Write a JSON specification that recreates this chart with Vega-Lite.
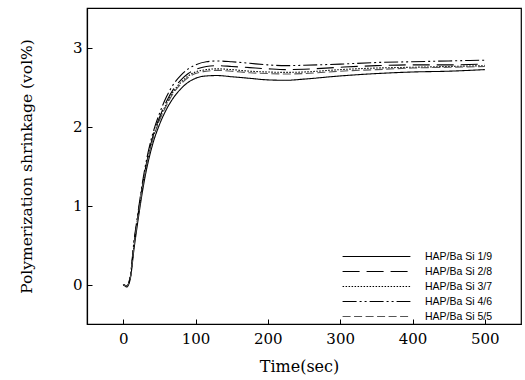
{
  "$schema": "https://vega.github.io/schema/vega-lite/v6.json",
  "width": 434,
  "height": 316,
  "autosize": {"type": "none"},
  "padding": {"left": 87, "top": 8, "right": 4, "bottom": 56},
  "background": "white",
  "config": {
    "view": {"stroke": "black", "strokeWidth": 1.2},
    "axis": {"grid": false, "domainColor": "black", "tickColor": "black", "labelColor": "black", "titleColor": "black", "labelFont": "DejaVu Serif", "titleFont": "DejaVu Serif", "labelFontSize": 15, "titleFontSize": 16, "titleFontWeight": "normal", "tickSize": -5, "domainWidth": 1.2},
    "legend": {"title": null, "orient": "none", "legendX": 255, "legendY": 241, "symbolType": "stroke", "symbolSize": 4600, "clipHeight": 15, "symbolStrokeWidth": 1.1, "labelFont": "Liberation Sans", "labelFontSize": 10.5, "labelColor": "black", "rowPadding": 0, "labelOffset": 14}
  },
  "datasets": {
    "d": [
      {"t":0,"y":0,"s":"HAP/Ba Si 1/9"},{"t":5,"y":-0.03,"s":"HAP/Ba Si 1/9"},{"t":10,"y":0.08,"s":"HAP/Ba Si 1/9"},{"t":15,"y":0.45,"s":"HAP/Ba Si 1/9"},{"t":20,"y":0.78,"s":"HAP/Ba Si 1/9"},{"t":30,"y":1.35,"s":"HAP/Ba Si 1/9"},{"t":40,"y":1.75,"s":"HAP/Ba Si 1/9"},{"t":50,"y":2.02,"s":"HAP/Ba Si 1/9"},{"t":60,"y":2.22,"s":"HAP/Ba Si 1/9"},{"t":70,"y":2.37,"s":"HAP/Ba Si 1/9"},{"t":80,"y":2.48,"s":"HAP/Ba Si 1/9"},{"t":90,"y":2.56,"s":"HAP/Ba Si 1/9"},{"t":100,"y":2.61,"s":"HAP/Ba Si 1/9"},{"t":115,"y":2.64,"s":"HAP/Ba Si 1/9"},{"t":130,"y":2.645,"s":"HAP/Ba Si 1/9"},{"t":150,"y":2.63,"s":"HAP/Ba Si 1/9"},{"t":175,"y":2.61,"s":"HAP/Ba Si 1/9"},{"t":200,"y":2.59,"s":"HAP/Ba Si 1/9"},{"t":225,"y":2.585,"s":"HAP/Ba Si 1/9"},{"t":250,"y":2.6,"s":"HAP/Ba Si 1/9"},{"t":300,"y":2.64,"s":"HAP/Ba Si 1/9"},{"t":350,"y":2.67,"s":"HAP/Ba Si 1/9"},{"t":400,"y":2.69,"s":"HAP/Ba Si 1/9"},{"t":450,"y":2.7,"s":"HAP/Ba Si 1/9"},{"t":500,"y":2.72,"s":"HAP/Ba Si 1/9"},

      {"t":0,"y":0,"s":"HAP/Ba Si 2/8"},{"t":5,"y":-0.02,"s":"HAP/Ba Si 2/8"},{"t":10,"y":0.1,"s":"HAP/Ba Si 2/8"},{"t":15,"y":0.52,"s":"HAP/Ba Si 2/8"},{"t":20,"y":0.85,"s":"HAP/Ba Si 2/8"},{"t":30,"y":1.43,"s":"HAP/Ba Si 2/8"},{"t":40,"y":1.84,"s":"HAP/Ba Si 2/8"},{"t":50,"y":2.11,"s":"HAP/Ba Si 2/8"},{"t":60,"y":2.32,"s":"HAP/Ba Si 2/8"},{"t":70,"y":2.48,"s":"HAP/Ba Si 2/8"},{"t":80,"y":2.59,"s":"HAP/Ba Si 2/8"},{"t":90,"y":2.67,"s":"HAP/Ba Si 2/8"},{"t":100,"y":2.72,"s":"HAP/Ba Si 2/8"},{"t":115,"y":2.76,"s":"HAP/Ba Si 2/8"},{"t":130,"y":2.77,"s":"HAP/Ba Si 2/8"},{"t":150,"y":2.76,"s":"HAP/Ba Si 2/8"},{"t":175,"y":2.745,"s":"HAP/Ba Si 2/8"},{"t":200,"y":2.73,"s":"HAP/Ba Si 2/8"},{"t":225,"y":2.72,"s":"HAP/Ba Si 2/8"},{"t":250,"y":2.725,"s":"HAP/Ba Si 2/8"},{"t":300,"y":2.75,"s":"HAP/Ba Si 2/8"},{"t":350,"y":2.77,"s":"HAP/Ba Si 2/8"},{"t":400,"y":2.78,"s":"HAP/Ba Si 2/8"},{"t":450,"y":2.78,"s":"HAP/Ba Si 2/8"},{"t":500,"y":2.79,"s":"HAP/Ba Si 2/8"},

      {"t":0,"y":0,"s":"HAP/Ba Si 3/7"},{"t":5,"y":-0.02,"s":"HAP/Ba Si 3/7"},{"t":10,"y":0.1,"s":"HAP/Ba Si 3/7"},{"t":15,"y":0.5,"s":"HAP/Ba Si 3/7"},{"t":20,"y":0.83,"s":"HAP/Ba Si 3/7"},{"t":30,"y":1.41,"s":"HAP/Ba Si 3/7"},{"t":40,"y":1.82,"s":"HAP/Ba Si 3/7"},{"t":50,"y":2.09,"s":"HAP/Ba Si 3/7"},{"t":60,"y":2.29,"s":"HAP/Ba Si 3/7"},{"t":70,"y":2.45,"s":"HAP/Ba Si 3/7"},{"t":80,"y":2.56,"s":"HAP/Ba Si 3/7"},{"t":90,"y":2.64,"s":"HAP/Ba Si 3/7"},{"t":100,"y":2.69,"s":"HAP/Ba Si 3/7"},{"t":115,"y":2.72,"s":"HAP/Ba Si 3/7"},{"t":130,"y":2.73,"s":"HAP/Ba Si 3/7"},{"t":150,"y":2.72,"s":"HAP/Ba Si 3/7"},{"t":175,"y":2.7,"s":"HAP/Ba Si 3/7"},{"t":200,"y":2.69,"s":"HAP/Ba Si 3/7"},{"t":225,"y":2.685,"s":"HAP/Ba Si 3/7"},{"t":250,"y":2.69,"s":"HAP/Ba Si 3/7"},{"t":300,"y":2.72,"s":"HAP/Ba Si 3/7"},{"t":350,"y":2.74,"s":"HAP/Ba Si 3/7"},{"t":400,"y":2.75,"s":"HAP/Ba Si 3/7"},{"t":450,"y":2.76,"s":"HAP/Ba Si 3/7"},{"t":500,"y":2.77,"s":"HAP/Ba Si 3/7"},

      {"t":0,"y":0,"s":"HAP/Ba Si 4/6"},{"t":5,"y":-0.02,"s":"HAP/Ba Si 4/6"},{"t":10,"y":0.12,"s":"HAP/Ba Si 4/6"},{"t":15,"y":0.55,"s":"HAP/Ba Si 4/6"},{"t":20,"y":0.88,"s":"HAP/Ba Si 4/6"},{"t":30,"y":1.47,"s":"HAP/Ba Si 4/6"},{"t":40,"y":1.88,"s":"HAP/Ba Si 4/6"},{"t":50,"y":2.16,"s":"HAP/Ba Si 4/6"},{"t":60,"y":2.38,"s":"HAP/Ba Si 4/6"},{"t":70,"y":2.54,"s":"HAP/Ba Si 4/6"},{"t":80,"y":2.65,"s":"HAP/Ba Si 4/6"},{"t":90,"y":2.73,"s":"HAP/Ba Si 4/6"},{"t":100,"y":2.78,"s":"HAP/Ba Si 4/6"},{"t":115,"y":2.82,"s":"HAP/Ba Si 4/6"},{"t":130,"y":2.83,"s":"HAP/Ba Si 4/6"},{"t":150,"y":2.82,"s":"HAP/Ba Si 4/6"},{"t":175,"y":2.8,"s":"HAP/Ba Si 4/6"},{"t":200,"y":2.78,"s":"HAP/Ba Si 4/6"},{"t":225,"y":2.77,"s":"HAP/Ba Si 4/6"},{"t":250,"y":2.775,"s":"HAP/Ba Si 4/6"},{"t":300,"y":2.79,"s":"HAP/Ba Si 4/6"},{"t":350,"y":2.81,"s":"HAP/Ba Si 4/6"},{"t":400,"y":2.82,"s":"HAP/Ba Si 4/6"},{"t":450,"y":2.83,"s":"HAP/Ba Si 4/6"},{"t":500,"y":2.84,"s":"HAP/Ba Si 4/6"},

      {"t":0,"y":0,"s":"HAP/Ba Si 5/5"},{"t":5,"y":-0.02,"s":"HAP/Ba Si 5/5"},{"t":10,"y":0.09,"s":"HAP/Ba Si 5/5"},{"t":15,"y":0.49,"s":"HAP/Ba Si 5/5"},{"t":20,"y":0.82,"s":"HAP/Ba Si 5/5"},{"t":30,"y":1.4,"s":"HAP/Ba Si 5/5"},{"t":40,"y":1.8,"s":"HAP/Ba Si 5/5"},{"t":50,"y":2.07,"s":"HAP/Ba Si 5/5"},{"t":60,"y":2.27,"s":"HAP/Ba Si 5/5"},{"t":70,"y":2.43,"s":"HAP/Ba Si 5/5"},{"t":80,"y":2.54,"s":"HAP/Ba Si 5/5"},{"t":90,"y":2.62,"s":"HAP/Ba Si 5/5"},{"t":100,"y":2.67,"s":"HAP/Ba Si 5/5"},{"t":115,"y":2.7,"s":"HAP/Ba Si 5/5"},{"t":130,"y":2.71,"s":"HAP/Ba Si 5/5"},{"t":150,"y":2.7,"s":"HAP/Ba Si 5/5"},{"t":175,"y":2.68,"s":"HAP/Ba Si 5/5"},{"t":200,"y":2.67,"s":"HAP/Ba Si 5/5"},{"t":225,"y":2.665,"s":"HAP/Ba Si 5/5"},{"t":250,"y":2.67,"s":"HAP/Ba Si 5/5"},{"t":300,"y":2.7,"s":"HAP/Ba Si 5/5"},{"t":350,"y":2.72,"s":"HAP/Ba Si 5/5"},{"t":400,"y":2.74,"s":"HAP/Ba Si 5/5"},{"t":450,"y":2.75,"s":"HAP/Ba Si 5/5"},{"t":500,"y":2.76,"s":"HAP/Ba Si 5/5"}
    ]
  },
  "data": {"name": "d"},
  "mark": {"type": "line", "interpolate": "monotone", "strokeWidth": 1.1},
  "encoding": {
    "x": {"field": "t", "type": "quantitative", "scale": {"domain": [-50, 550], "nice": false, "zero": false}, "axis": {"values": [0, 100, 200, 300, 400, 500], "title": "Time(sec)", "titleFontWeight": "normal", "labelPadding": 12, "titlePadding": 12, "titleX": 212}},
    "y": {"field": "y", "type": "quantitative", "scale": {"domain": [-0.5, 3.5], "nice": false, "zero": false}, "axis": {"values": [0, 1, 2, 3], "title": "Polymerization shrinkage (vol%)", "titleFontWeight": "normal", "titleFontSize": 15.5, "labelPadding": 10, "titlePadding": 38}},
    "color": {"field": "s", "type": "nominal", "scale": {"domain": ["HAP/Ba Si 1/9", "HAP/Ba Si 2/8", "HAP/Ba Si 3/7", "HAP/Ba Si 4/6", "HAP/Ba Si 5/5"], "range": ["#000000", "#000000", "#000000", "#000000", "#555555"]}},
    "strokeDash": {"field": "s", "type": "nominal", "scale": {"domain": ["HAP/Ba Si 1/9", "HAP/Ba Si 2/8", "HAP/Ba Si 3/7", "HAP/Ba Si 4/6", "HAP/Ba Si 5/5"], "range": [[1, 0], [17, 7], [1.5, 1.5], [14, 3, 2, 3, 2, 3], [8, 3.5]]}}
  }
}
